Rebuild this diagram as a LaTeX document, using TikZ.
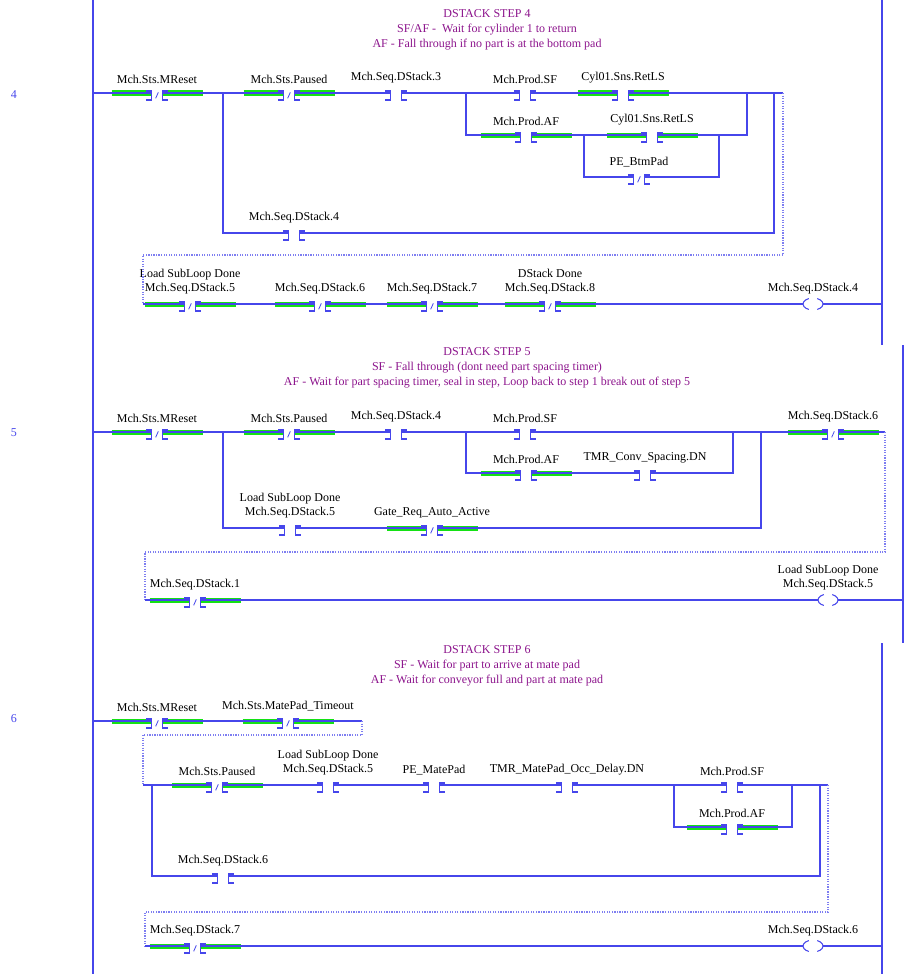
\documentclass[tikz,border=0pt]{standalone}
\usepackage{fontspec}
\setmainfont{Liberation Serif}
\definecolor{lad}{RGB}{70,70,235}
\definecolor{hot}{RGB}{20,225,20}
\definecolor{cmt}{RGB}{140,20,140}
\tikzset{
    wire/.style={draw=lad, line width=0.8pt},
    dotw/.style={draw=lad!70, densely dotted, line width=0.9pt},
    grn/.style={draw=hot, line width=3.75pt},
    ct/.style={inner sep=0pt, outer sep=0pt, minimum width=8.25pt, minimum height=0pt, label distance=0pt},
    coil/.style={ct, minimum width=15pt},
    lbl/.style={font=\fontsize{9}{10.5}\selectfont, inner sep=0pt, align=center, yshift=7pt},
    hdr/.style={font=\fontsize{9}{11.25}\selectfont, text=cmt, align=center},
    num/.style={font=\fontsize{9}{10}\selectfont, text=lad}
}
% contact: name, x, y, label, energised (0/1)
\newcommand\xic[5]{%
    \node[ct, label={[lbl]above:{#4}}] (#1) at (#2,#3) {};
    \ifnum#5=1 \draw[grn] ([xshift=-30pt]#1.west) -- (#1.west) (#1.east) -- ([xshift=30pt]#1.east);\fi
    \draw[wire] ([xshift=-4pt,yshift=1.5pt]#1.west) -- ([yshift=1.5pt]#1.west) -- ([yshift=-5.25pt]#1.west) -- ++(-4pt,0);
    \draw[wire] ([xshift=4pt,yshift=1.5pt]#1.east) -- ([yshift=1.5pt]#1.east) -- ([yshift=-5.25pt]#1.east) -- ++(4pt,0);
}
\newcommand\xio[5]{%
    \xic{#1}{#2}{#3}{#4}{#5}
    \draw[wire, line width=0.6pt] ([xshift=-1pt,yshift=-4pt]#1.center) -- ([xshift=1pt,yshift=0.5pt]#1.center);
}
\newcommand\ote[4]{%
    \node[coil, label={[lbl]above:{#4}}] (#1) at (#2,#3) {};
    \draw[wire] (#1.center) ++(115:7.5pt and 4.5pt) arc[start angle=115, end angle=245, x radius=7.5pt, y radius=4.5pt];
    \draw[wire] (#1.center) ++(65:7.5pt and 4.5pt) arc[start angle=65, end angle=-65, x radius=7.5pt, y radius=4.5pt];
}
\begin{document}
\begin{tikzpicture}[x=0.75pt, y=-0.75pt]
    \useasboundingbox (0,0) rectangle (914,974);

    % rails
    \draw[wire] (93,0) -- (93,974);
    \draw[wire] (882,0) -- (882,345);
    \draw[wire] (903,345) -- (903,643);
    \draw[wire] (882,643) -- (882,974);

    % Rung 4
    \node[hdr] (h4) at (487,30) {DSTACK STEP 4\\SF/AF -\ \ Wait for cylinder 1 to return\\AF - Fall through if no part is at the bottom pad};
    \node[num] (n4) at (14,95) {4};
    \coordinate (s4) at (93,93);
    \coordinate (j4a) at (223,93);  \coordinate (j4b) at (223,233);
    \coordinate (j4c) at (466,93);  \coordinate (j4d) at (466,135);
    \coordinate (j4e) at (747,93);  \coordinate (j4f) at (747,135);
    \coordinate (j4g) at (584,135); \coordinate (j4h) at (584,177);
    \coordinate (j4i) at (719,135); \coordinate (j4k) at (719,177);
    \coordinate (j4m) at (774,93);  \coordinate (j4n) at (774,233);
    \coordinate (d4a) at (783,93);  \coordinate (d4b) at (783,255);
    \coordinate (d4c) at (143,255); \coordinate (d4d) at (143,304);
    \coordinate (e4) at (882,304);

    \xio{MR4}{157}{93}{Mch.Sts.MReset}{1}
    \xio{PA4}{289}{93}{Mch.Sts.Paused}{1}
    \xic{DS34}{396}{93}{Mch.Seq.DStack.3}{0}
    \xic{SF4}{525}{93}{Mch.Prod.SF}{0}
    \xic{RLa4}{623}{93}{Cyl01.Sns.RetLS}{1}
    \xic{AF4}{526}{135}{Mch.Prod.AF}{1}
    \xic{RLb4}{652}{135}{Cyl01.Sns.RetLS}{1}
    \xio{BP4}{639}{177}{PE\_BtmPad}{0}
    \xic{DS44}{294}{233}{Mch.Seq.DStack.4}{0}
    \xio{LD4}{190}{304}{Load SubLoop Done\\Mch.Seq.DStack.5}{1}
    \xio{DS64}{320}{304}{Mch.Seq.DStack.6}{1}
    \xio{DS74}{432}{304}{Mch.Seq.DStack.7}{1}
    \xio{DS84}{550}{304}{DStack Done\\Mch.Seq.DStack.8}{1}
    \ote{C4}{813}{304}{Mch.Seq.DStack.4}

    \draw[wire] (s4) -- (MR4) -- (j4a) -- (PA4) -- (DS34) -- (j4c) -- (SF4) -- (RLa4) -- (j4e) -- (j4m) -- (d4a);
    \draw[wire] (j4a) -- (j4b) -- (DS44) -- (j4n) -- (j4m);
    \draw[wire] (j4c) -- (j4d) -- (AF4) -- (j4g) -- (RLb4) -- (j4i) -- (j4f) -- (j4e);
    \draw[wire] (j4g) -- (j4h) -- (BP4) -- (j4k) -- (j4i);
    \draw[dotw] (d4a) -- (d4b) -- (d4c) -- (d4d);
    \draw[wire] (d4d) -- (LD4) -- (DS64) -- (DS74) -- (DS84) -- (C4) -- (e4);

    % Rung 5
    \node[hdr] (h5) at (487,368) {DSTACK STEP 5\\SF - Fall through (dont need part spacing timer)\\AF - Wait for part spacing timer, seal in step, Loop back to step 1 break out of step 5};
    \node[num] (n5) at (14,433) {5};
    \coordinate (s5) at (93,432);
    \coordinate (j5a) at (223,432); \coordinate (j5b) at (223,528);
    \coordinate (j5c) at (466,432); \coordinate (j5d) at (466,473);
    \coordinate (j5e) at (733,432); \coordinate (j5f) at (733,473);
    \coordinate (j5g) at (761,432); \coordinate (j5h) at (761,528);
    \coordinate (d5a) at (885,432); \coordinate (d5b) at (885,552);
    \coordinate (d5c) at (145,552); \coordinate (d5d) at (145,600);
    \coordinate (e5) at (903,600);

    \xio{MR5}{157}{432}{Mch.Sts.MReset}{1}
    \xio{PA5}{289}{432}{Mch.Sts.Paused}{1}
    \xic{DS45}{396}{432}{Mch.Seq.DStack.4}{0}
    \xic{SF5}{525}{432}{Mch.Prod.SF}{0}
    \xic{AF5}{526}{473}{Mch.Prod.AF}{1}
    \xic{TM5}{645}{473}{TMR\_Conv\_Spacing.DN}{0}
    \xic{LD5}{290}{528}{Load SubLoop Done\\Mch.Seq.DStack.5}{0}
    \xio{GR5}{432}{528}{Gate\_Req\_Auto\_Active}{1}
    \xio{DS65}{833}{432}{Mch.Seq.DStack.6}{1}
    \xio{DS15}{195}{600}{Mch.Seq.DStack.1}{1}
    \ote{C5}{828}{600}{Load SubLoop Done\\Mch.Seq.DStack.5}

    \draw[wire] (s5) -- (MR5) -- (j5a) -- (PA5) -- (DS45) -- (j5c) -- (SF5) -- (j5e) -- (j5g) -- (DS65) -- (d5a);
    \draw[wire] (j5c) -- (j5d) -- (AF5) -- (TM5) -- (j5f) -- (j5e);
    \draw[wire] (j5a) -- (j5b) -- (LD5) -- (GR5) -- (j5h) -- (j5g);
    \draw[dotw] (d5a) -- (d5b) -- (d5c) -- (d5d);
    \draw[wire] (d5d) -- (DS15) -- (C5) -- (e5);

    % Rung 6
    \node[hdr] (h6) at (487,666) {DSTACK STEP 6\\SF - Wait for part to arrive at mate pad\\AF - Wait for conveyor full and part at mate pad};
    \node[num] (n6) at (14,719) {6};
    \coordinate (s6) at (93,721);
    \coordinate (d6a) at (362,721); \coordinate (d6b) at (362,735);
    \coordinate (d6c) at (143,735); \coordinate (d6d) at (143,785);
    \coordinate (j6a) at (152,785); \coordinate (j6b) at (152,876);
    \coordinate (j6c) at (674,785); \coordinate (j6d) at (674,827);
    \coordinate (j6e) at (792,785); \coordinate (j6f) at (792,827);
    \coordinate (j6g) at (820,785); \coordinate (j6h) at (820,876);
    \coordinate (d6e) at (828,785); \coordinate (d6f) at (828,912);
    \coordinate (d6g) at (145,912); \coordinate (d6h) at (145,946);
    \coordinate (e6) at (882,946);

    \xio{MR6}{157}{721}{Mch.Sts.MReset}{1}
    \xio{MT6}{288}{721}{Mch.Sts.MatePad\_Timeout}{1}
    \xio{PA6}{217}{785}{Mch.Sts.Paused}{1}
    \xic{LD6}{328}{785}{Load SubLoop Done\\Mch.Seq.DStack.5}{0}
    \xic{PM6}{434}{785}{PE\_MatePad}{0}
    \xic{TM6}{567}{785}{TMR\_MatePad\_Occ\_Delay.DN}{0}
    \xic{SF6}{732}{785}{Mch.Prod.SF}{0}
    \xic{AF6}{732}{827}{Mch.Prod.AF}{1}
    \xic{DS66}{223}{876}{Mch.Seq.DStack.6}{0}
    \xio{DS76}{195}{946}{Mch.Seq.DStack.7}{1}
    \ote{C6}{813}{946}{Mch.Seq.DStack.6}

    \draw[wire] (s6) -- (MR6) -- (MT6) -- (d6a);
    \draw[dotw] (d6a) -- (d6b) -- (d6c) -- (d6d);
    \draw[wire] (d6d) -- (j6a) -- (PA6) -- (LD6) -- (PM6) -- (TM6) -- (j6c) -- (SF6) -- (j6e) -- (j6g) -- (d6e);
    \draw[wire] (j6c) -- (j6d) -- (AF6) -- (j6f) -- (j6e);
    \draw[wire] (j6a) -- (j6b) -- (DS66) -- (j6h) -- (j6g);
    \draw[dotw] (d6e) -- (d6f) -- (d6g) -- (d6h);
    \draw[wire] (d6h) -- (DS76) -- (C6) -- (e6);

\end{tikzpicture}
\end{document}
